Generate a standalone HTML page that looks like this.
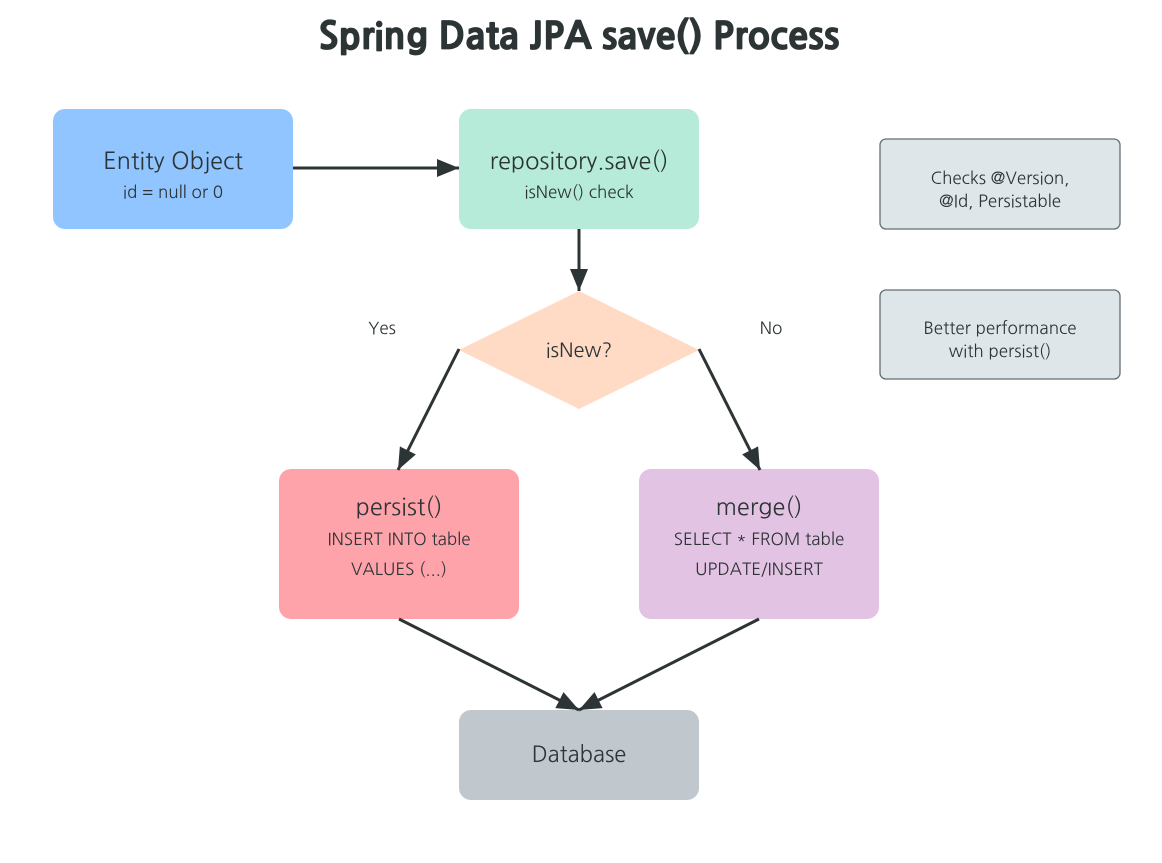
<!DOCTYPE html>
<html><head><meta charset="utf-8"><style>
html,body{margin:0;padding:0;background:#fff}
svg{display:block}
text{font-family:"NanumGothic","Liberation Sans",sans-serif;fill:#2d3436}
</style></head><body>
<svg width="1162" height="863" viewBox="0 0 1162 863" xmlns="http://www.w3.org/2000/svg">
<defs>
<marker id="a" markerWidth="22" markerHeight="18" refX="22" refY="9" orient="auto" markerUnits="userSpaceOnUse">
<path d="M0,0 L22,9 L0,18 Z" fill="#2d3436"/>
</marker>
</defs>
<text x="579" y="49" text-anchor="middle" font-size="37" font-weight="800" stroke="#2d3436" stroke-width="0.8">Spring Data JPA save() Process</text>

<rect x="53" y="109" width="240" height="120" rx="12" fill="#90c5ff"/>
<text x="173" y="169" text-anchor="middle" font-size="23.5">Entity Object</text>
<text x="173" y="198" text-anchor="middle" font-size="17">id = null or 0</text>

<rect x="459" y="109" width="240" height="120" rx="12" fill="#b5ebd8"/>
<text x="579" y="169" text-anchor="middle" font-size="23.5">repository.save()</text>
<text x="579" y="198" text-anchor="middle" font-size="17">isNew() check</text>

<polygon points="579,291 699,350 579,409 459,350" fill="#ffdac4"/>
<text x="579" y="357" text-anchor="middle" font-size="20">isNew?</text>

<rect x="279" y="469" width="240" height="150" rx="12" fill="#ffa3ab"/>
<text x="399" y="515" text-anchor="middle" font-size="23.5">persist()</text>
<text x="399" y="545" text-anchor="middle" font-size="17">INSERT INTO table</text>
<text x="399" y="575" text-anchor="middle" font-size="17">VALUES (...)</text>

<rect x="639" y="469" width="240" height="150" rx="12" fill="#e3c3e3"/>
<text x="759" y="515" text-anchor="middle" font-size="23.5">merge()</text>
<text x="759" y="545" text-anchor="middle" font-size="17">SELECT * FROM table</text>
<text x="759" y="575" text-anchor="middle" font-size="17">UPDATE/INSERT</text>

<rect x="459" y="710" width="240" height="90" rx="12" fill="#c0c8cd"/>
<text x="579" y="762" text-anchor="middle" font-size="22">Database</text>

<rect x="880" y="139" width="240" height="90" rx="6" fill="#dfe6e9" stroke="#636e72" stroke-width="1.3"/>
<text x="1000" y="184" text-anchor="middle" font-size="17">Checks @Version,</text>
<text x="1000" y="207" text-anchor="middle" font-size="17">@Id, Persistable</text>

<rect x="880" y="290" width="240" height="89" rx="6" fill="#dfe6e9" stroke="#636e72" stroke-width="1.3"/>
<text x="1000" y="334" text-anchor="middle" font-size="17">Better performance</text>
<text x="1000" y="357" text-anchor="middle" font-size="17">with persist()</text>

<text x="382" y="334" text-anchor="middle" font-size="17">Yes</text>
<text x="771" y="334" text-anchor="middle" font-size="17">No</text>

<g stroke="#2d3436" stroke-width="3" fill="none" marker-end="url(#a)">
<line x1="293" y1="168" x2="459" y2="168"/>
<line x1="579" y1="229" x2="579" y2="291"/>
<line x1="459" y1="349" x2="398" y2="470"/>
<line x1="699" y1="349" x2="760" y2="470"/>
<line x1="399" y1="619" x2="579" y2="710"/>
<line x1="759" y1="619" x2="579" y2="710"/>
</g>
</svg>
</body></html>
